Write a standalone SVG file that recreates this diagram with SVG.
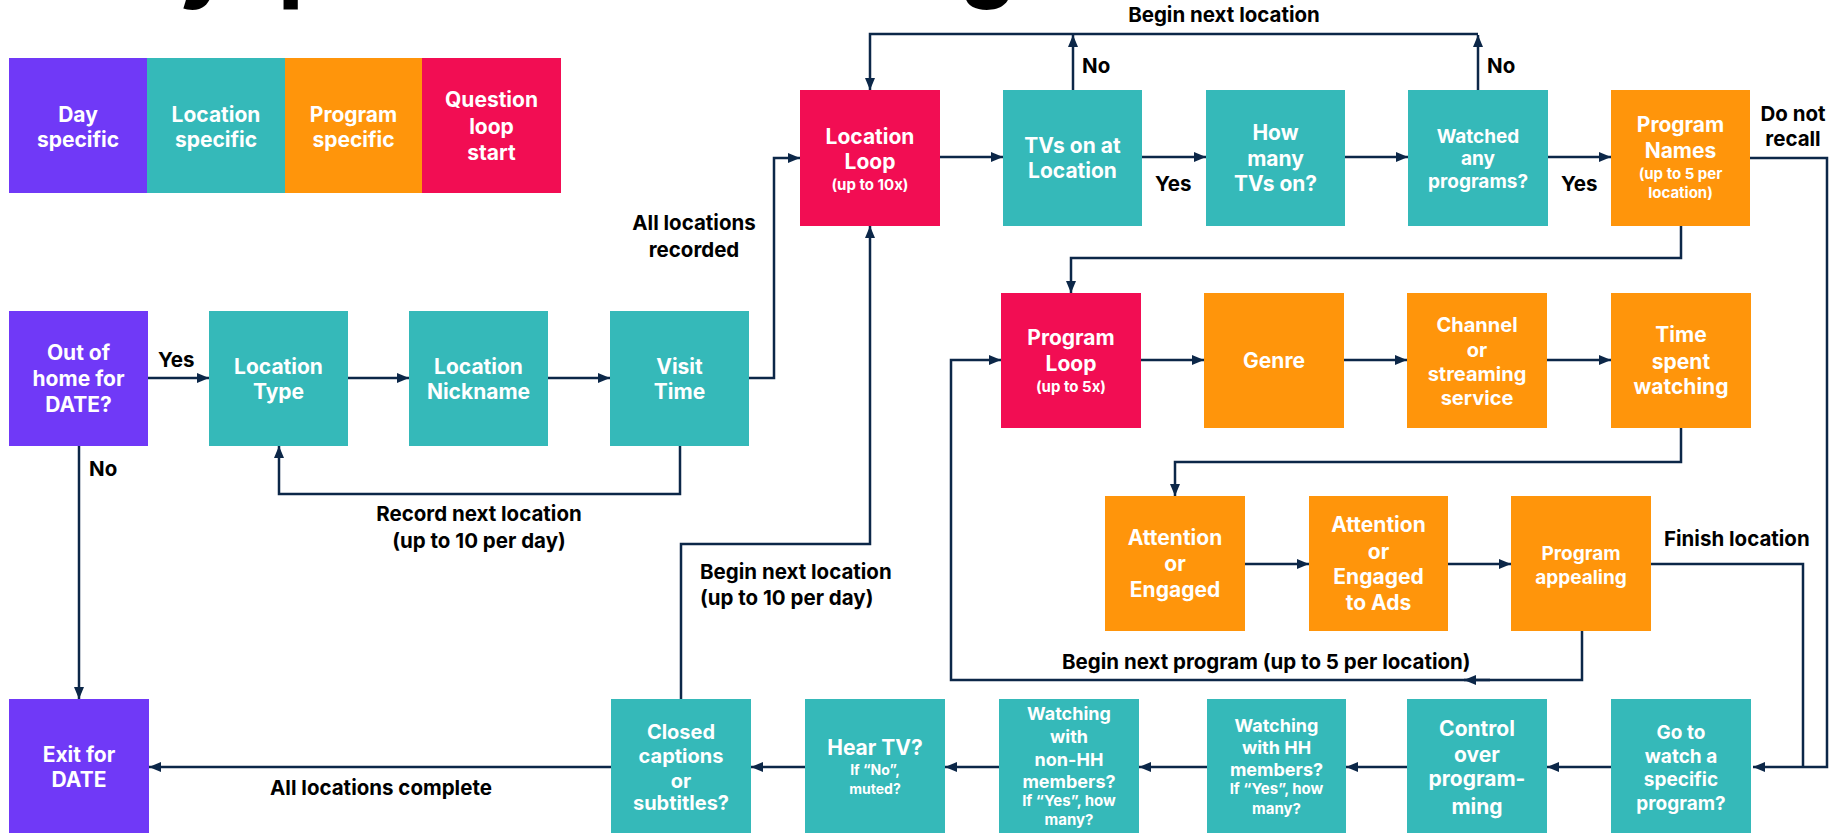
<svg xmlns="http://www.w3.org/2000/svg" width="1831" height="833" viewBox="0 0 1831 833">
<style>
.n{font-family:Inter,"Liberation Sans",sans-serif;font-weight:700;fill:#fff;text-anchor:middle}
.s21{font-size:21px}.s20{font-size:20px}.s19{font-size:19px}.s18{font-size:18px}.s15{font-size:15px}.s14{font-size:14px}
.lb{font-family:Inter,"Liberation Sans",sans-serif;font-weight:700;font-size:20.5px;fill:#000}
.mid{text-anchor:middle}
.pu{fill:#7039F7}.te{fill:#35B9B9}.or{fill:#FF950B}.re{fill:#F20D53}
.c{fill:none;stroke:#0C2748;stroke-width:2.5}
.title{font-family:Inter,"Liberation Sans",sans-serif;font-weight:800;font-size:84px;fill:#000}
</style>
<defs>
<marker id="a" viewBox="0 0 12 10" refX="12" refY="5" markerWidth="12" markerHeight="10" markerUnits="userSpaceOnUse" orient="auto">
<path d="M0,0 L12,5 L0,10 z" fill="#0C2748"/>
</marker>
</defs>
<rect width="1831" height="833" fill="#fff"/>
<text class="title" x="20" y="-8">Daily question flow diagram</text>

<g id="legend">
<g id="leg-day"><rect class="pu" x="9" y="58" width="138" height="135"/><text class="n s21" x="78" y="122">Day</text><text class="n s21" x="78" y="147">specific</text></g>
<g id="leg-loc"><rect class="te" x="147" y="58" width="138" height="135"/><text class="n s21" x="216" y="122">Location</text><text class="n s21" x="216" y="147">specific</text></g>
<g id="leg-prog"><rect class="or" x="285" y="58" width="137" height="135"/><text class="n s21" x="353.5" y="122">Program</text><text class="n s21" x="353.5" y="147">specific</text></g>
<g id="leg-q"><rect class="re" x="422" y="58" width="139" height="135"/><text class="n s21" x="491.5" y="107">Question</text><text class="n s21" x="491.5" y="134">loop</text><text class="n s21" x="491.5" y="160">start</text></g>
</g>

<g id="connectors">
<path class="c" d="M148,378 H209" marker-end="url(#a)"/>
<path class="c" d="M348,378 H409" marker-end="url(#a)"/>
<path class="c" d="M548,378 H610" marker-end="url(#a)"/>
<path class="c" d="M749,378 H774 V158 H800" marker-end="url(#a)"/>
<path class="c" d="M680,446 V494 H279 V446" marker-end="url(#a)"/>
<path class="c" d="M79,446 V699" marker-end="url(#a)"/>
<path class="c" d="M940,157 H1003" marker-end="url(#a)"/>
<path class="c" d="M1142,157 H1206" marker-end="url(#a)"/>
<path class="c" d="M1345,157 H1408" marker-end="url(#a)"/>
<path class="c" d="M1548,157 H1611" marker-end="url(#a)"/>
<path class="c" d="M1073,90 V35" marker-end="url(#a)"/>
<path class="c" d="M1478,90 V35" marker-end="url(#a)"/>
<path class="c" d="M1478,34 H870 V90" marker-end="url(#a)"/>
<path class="c" d="M1681,226 V258 H1071 V293" marker-end="url(#a)"/>
<path class="c" d="M1750,158 H1827 V767 H1753" marker-end="url(#a)"/>
<path class="c" d="M1141,360 H1204" marker-end="url(#a)"/>
<path class="c" d="M1344,360 H1407" marker-end="url(#a)"/>
<path class="c" d="M1547,360 H1611" marker-end="url(#a)"/>
<path class="c" d="M1681,428 V462 H1175 V496" marker-end="url(#a)"/>
<path class="c" d="M1245,564 H1309" marker-end="url(#a)"/>
<path class="c" d="M1448,564 H1511" marker-end="url(#a)"/>
<path class="c" d="M1651,564 H1803 V767"/>
<path class="c" d="M1582,631 V680 H951 V360 H1001" marker-end="url(#a)"/>
<path class="c" d="M1490,680 H1464" marker-end="url(#a)"/>
<path class="c" d="M1611,767 H1547" marker-end="url(#a)"/>
<path class="c" d="M1407,767 H1346" marker-end="url(#a)"/>
<path class="c" d="M1207,767 H1139" marker-end="url(#a)"/>
<path class="c" d="M999,767 H945" marker-end="url(#a)"/>
<path class="c" d="M805,767 H751" marker-end="url(#a)"/>
<path class="c" d="M611,767 H149" marker-end="url(#a)"/>
<path class="c" d="M681,699 V544 H870 V226" marker-end="url(#a)"/>
</g>

<g id="labels">
<text class="lb mid" x="1224" y="22">Begin next location</text>
<text class="lb" x="1082" y="73">No</text>
<text class="lb" x="1487" y="73">No</text>
<text class="lb" x="1155" y="191">Yes</text>
<text class="lb" x="1561" y="191">Yes</text>
<text class="lb mid" x="1793" y="121">Do not</text>
<text class="lb mid" x="1793" y="146">recall</text>
<text class="lb mid" x="694" y="230">All locations</text>
<text class="lb mid" x="694" y="257">recorded</text>
<text class="lb" x="158" y="367">Yes</text>
<text class="lb" x="89" y="476">No</text>
<text class="lb mid" x="479" y="521">Record next location</text>
<text class="lb mid" x="479" y="548">(up to 10 per day)</text>
<text class="lb" x="700" y="579">Begin next location</text>
<text class="lb" x="700" y="605">(up to 10 per day)</text>
<text class="lb" x="1664" y="546">Finish location</text>
<text class="lb" x="1062" y="669">Begin next program (up to 5 per location)</text>
<text class="lb mid" x="381" y="795">All locations complete</text>
</g>

<g id="out-home"><rect class="pu" x="9" y="311" width="139" height="135"/><text class="n s21" x="78.5" y="360">Out of</text><text class="n s21" x="78.5" y="386">home for</text><text class="n s21" x="78.5" y="412">DATE?</text></g>
<g id="loc-type"><rect class="te" x="209" y="311" width="139" height="135"/><text class="n s21" x="278.5" y="374">Location</text><text class="n s21" x="278.5" y="399">Type</text></g>
<g id="loc-nick"><rect class="te" x="409" y="311" width="139" height="135"/><text class="n s21" x="478.5" y="374">Location</text><text class="n s21" x="478.5" y="399">Nickname</text></g>
<g id="visit"><rect class="te" x="610" y="311" width="139" height="135"/><text class="n s21" x="679.5" y="374">Visit</text><text class="n s21" x="679.5" y="399">Time</text></g>
<g id="loc-loop"><rect class="re" x="800" y="90" width="140" height="136"/><text class="n s21" x="870" y="144">Location</text><text class="n s21" x="870" y="169">Loop</text><text class="n s15" x="870" y="190">(up to 10x)</text></g>
<g id="tvs-on"><rect class="te" x="1003" y="90" width="139" height="136"/><text class="n s21" x="1072.5" y="153">TVs on at</text><text class="n s21" x="1072.5" y="178">Location</text></g>
<g id="how-many"><rect class="te" x="1206" y="90" width="139" height="136"/><text class="n s21" x="1275.5" y="140">How</text><text class="n s21" x="1275.5" y="166">many</text><text class="n s21" x="1275.5" y="191">TVs on?</text></g>
<g id="watched"><rect class="te" x="1408" y="90" width="140" height="136"/><text class="n s19" x="1478" y="143">Watched</text><text class="n s19" x="1478" y="165">any</text><text class="n s19" x="1478" y="188">programs?</text></g>
<g id="prog-names"><rect class="or" x="1611" y="90" width="139" height="136"/><text class="n s21" x="1680.5" y="132">Program</text><text class="n s21" x="1680.5" y="158">Names</text><text class="n s15" x="1680.5" y="179">(up to 5 per</text><text class="n s15" x="1680.5" y="198">location)</text></g>
<g id="prog-loop"><rect class="re" x="1001" y="293" width="140" height="135"/><text class="n s21" x="1071" y="345">Program</text><text class="n s21" x="1071" y="371">Loop</text><text class="n s15" x="1071" y="392">(up to 5x)</text></g>
<g id="genre"><rect class="or" x="1204" y="293" width="140" height="135"/><text class="n s21" x="1274" y="368">Genre</text></g>
<g id="channel"><rect class="or" x="1407" y="293" width="140" height="135"/><text class="n s20" x="1477" y="332">Channel</text><text class="n s20" x="1477" y="357">or</text><text class="n s20" x="1477" y="381">streaming</text><text class="n s20" x="1477" y="405">service</text></g>
<g id="time-spent"><rect class="or" x="1611" y="293" width="140" height="135"/><text class="n s21" x="1681" y="342">Time</text><text class="n s21" x="1681" y="369">spent</text><text class="n s21" x="1681" y="394">watching</text></g>
<g id="attn"><rect class="or" x="1105" y="496" width="140" height="135"/><text class="n s21" x="1175" y="545">Attention</text><text class="n s21" x="1175" y="571">or</text><text class="n s21" x="1175" y="597">Engaged</text></g>
<g id="attn-ads"><rect class="or" x="1309" y="496" width="139" height="135"/><text class="n s21" x="1378.5" y="532">Attention</text><text class="n s21" x="1378.5" y="559">or</text><text class="n s21" x="1378.5" y="584">Engaged</text><text class="n s21" x="1378.5" y="610">to Ads</text></g>
<g id="appealing"><rect class="or" x="1511" y="496" width="140" height="135"/><text class="n s19" x="1581" y="560">Program</text><text class="n s19" x="1581" y="584">appealing</text></g>
<g id="exit"><rect class="pu" x="9" y="699" width="140" height="135"/><text class="n s21" x="79" y="762">Exit for</text><text class="n s21" x="79" y="787">DATE</text></g>
<g id="closed"><rect class="te" x="611" y="699" width="140" height="135"/><text class="n s20" x="681" y="739">Closed</text><text class="n s20" x="681" y="763">captions</text><text class="n s20" x="681" y="788">or</text><text class="n s20" x="681" y="810">subtitles?</text></g>
<g id="hear"><rect class="te" x="805" y="699" width="140" height="135"/><text class="n s21" x="875" y="755">Hear TV?</text><text class="n s14" x="875" y="775">If “No”,</text><text class="n s14" x="875" y="794">muted?</text></g>
<g id="non-hh"><rect class="te" x="999" y="699" width="140" height="135"/><text class="n s18" x="1069" y="720">Watching</text><text class="n s18" x="1069" y="743">with</text><text class="n s18" x="1069" y="766">non-HH</text><text class="n s18" x="1069" y="788">members?</text><text class="n s15" x="1069" y="806">If “Yes”, how</text><text class="n s15" x="1069" y="825">many?</text></g>
<g id="hh"><rect class="te" x="1207" y="699" width="139" height="135"/><text class="n s18" x="1276.5" y="732">Watching</text><text class="n s18" x="1276.5" y="754">with HH</text><text class="n s18" x="1276.5" y="776">members?</text><text class="n s15" x="1276.5" y="794">If “Yes”, how</text><text class="n s15" x="1276.5" y="814">many?</text></g>
<g id="control"><rect class="te" x="1407" y="699" width="140" height="135"/><text class="n s21" x="1477" y="736">Control</text><text class="n s21" x="1477" y="762">over</text><text class="n s21" x="1477" y="786">program-</text><text class="n s21" x="1477" y="814">ming</text></g>
<g id="go-watch"><rect class="te" x="1611" y="699" width="140" height="135"/><text class="n s19" x="1681" y="739">Go to</text><text class="n s19" x="1681" y="763">watch a</text><text class="n s19" x="1681" y="786">specific</text><text class="n s19" x="1681" y="810">program?</text></g>
</svg>
